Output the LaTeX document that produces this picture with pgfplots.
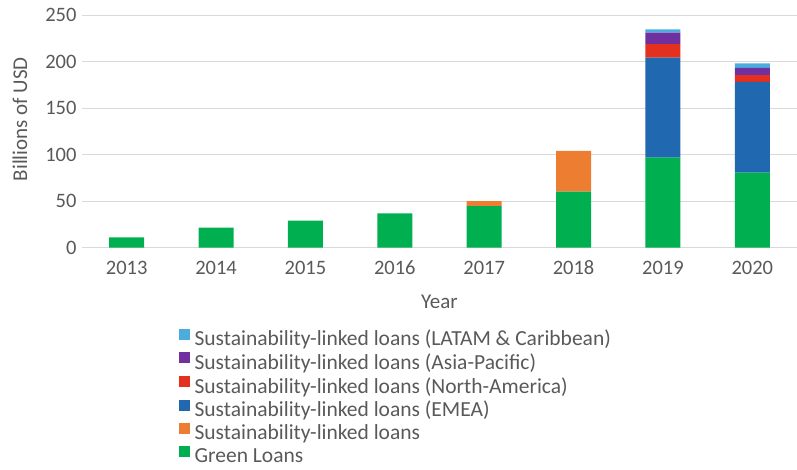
\documentclass[border=0pt]{standalone}
\usepackage{fontspec}
\setmainfont{Carlito}
\usepackage{pgfplots}
\pgfplotsset{compat=1.18}
\definecolor{cgreen}{HTML}{00B050}
\definecolor{corange}{HTML}{ED7D31}
\definecolor{cemea}{HTML}{2068B0}
\definecolor{cna}{HTML}{E3301F}
\definecolor{cap}{HTML}{7030A0}
\definecolor{clatam}{HTML}{4BACDE}
\definecolor{ctext}{HTML}{595959}
\definecolor{cgrid}{HTML}{D9D9D9}
\begin{document}
\begin{tikzpicture}
\path[use as bounding box] (0,0) rectangle (797pt,469pt);
\begin{axis}[
  at={(82pt,221.3pt)}, anchor=south west,
  scale only axis, width=715pt, height=232.5pt,
  ybar stacked, bar width=35pt,
  xmin=-0.5, xmax=7.5, ymin=0, ymax=250,
  xtick=data, xticklabels={2013,2014,2015,2016,2017,2018,2019,2020},
  ytick={0,50,100,150,200,250},
  ymajorgrids, grid style={cgrid, line width=1.2pt},
  axis x line*=bottom,
  axis y line*=left,
  x axis line style={cgrid, line width=1.2pt, -},
  y axis line style={draw=none},
  major tick length=0pt,
  /pgf/number format/assume math mode=true,
  ticklabel style={font=\fontsize{20.5}{24}\selectfont, text=ctext},
  yticklabel style={xshift=-2pt},
  xticklabel style={yshift=-27pt, anchor=base, text height=0pt, text depth=0pt},
  xlabel={Year}, ylabel={Billions of USD},
  label style={font=\fontsize{21}{25}\selectfont, text=ctext},
  xlabel style={at={(axis description cs:0.5,-0.234)}, anchor=center},
  ylabel style={at={(axis description cs:-0.087,0.553)}, anchor=center},
  reverse legend,
  legend cell align=left,
  legend style={at={(axis description cs:0.1306,-0.339)}, anchor=north west, draw=none, fill=none,
    font=\fontsize{21.5}{24.2}\selectfont, text=ctext, row sep=5pt,
    nodes={inner sep=0pt},
    /tikz/every odd column/.append style={column sep=5pt}},
  legend image code/.code={\fill[#1] (0pt,-1pt) rectangle (11pt,10pt);},
]
\addplot[fill=cgreen, draw=none] coordinates {(0,11.2) (1,21.5) (2,29) (3,37) (4,44.8) (5,60.2) (6,96.8) (7,80.6)};
\addplot[fill=corange, draw=none] coordinates {(0,0) (1,0) (2,0) (3,0) (4,5.4) (5,43.8) (6,0) (7,0)};
\addplot[fill=cemea, draw=none] coordinates {(0,0) (1,0) (2,0) (3,0) (4,0) (5,0) (6,107.5) (7,97.6)};
\addplot[fill=cna, draw=none] coordinates {(0,0) (1,0) (2,0) (3,0) (4,0) (5,0) (6,14.7) (7,7.5)};
\addplot[fill=cap, draw=none] coordinates {(0,0) (1,0) (2,0) (3,0) (4,0) (5,0) (6,12.2) (7,7.7)};
\addplot[fill=clatam, draw=none] coordinates {(0,0) (1,0) (2,0) (3,0) (4,0) (5,0) (6,3.6) (7,4.9)};
\legend{Green Loans, Sustainability-linked loans, Sustainability-linked loans (EMEA), Sustainability-linked loans (North-America), Sustainability-linked loans (Asia-Pacific), Sustainability-linked loans (LATAM \& Caribbean)}
\end{axis}
\end{tikzpicture}
\end{document}
